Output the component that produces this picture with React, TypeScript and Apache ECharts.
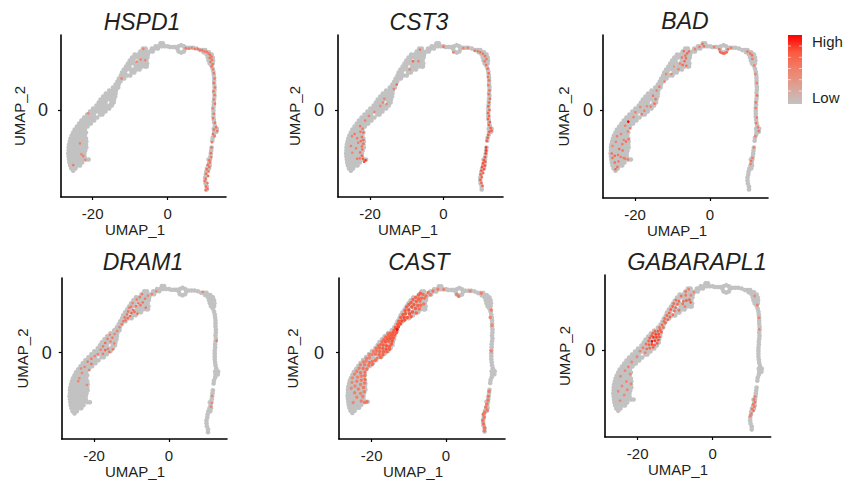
import React, { useEffect, useRef } from "react";
import * as echarts from "echarts";

type Row = [number, number[]];
type Hot = [number, number, number];

const lowerCells: Row[] = [
  [-16.2, [-25.2]],
  [-15.6, [-25.7, -24.6]],
  [-14.8, [-26.0, -25.1, -24.1, -23.4]],
  [-14.0, [-26.2, -25.4, -24.5, -23.6, -22.8]],
  [-13.2, [-26.3, -25.5, -24.6, -23.7, -22.8, -21.8, -21.1]],
  [-12.4, [-26.4, -25.5, -24.6, -23.7, -22.8, -22.2]],
  [-11.6, [-26.5, -25.6, -24.7, -23.8, -22.9, -22.2]],
  [-10.8, [-26.4, -25.5, -24.6, -23.7, -22.8, -22.0]],
  [-10.0, [-26.4, -25.6, -24.7, -23.8, -22.9, -22.0, -21.7]],
  [-9.2, [-26.3, -25.4, -24.5, -23.6, -22.7, -21.8]],
  [-8.4, [-26.1, -25.2, -24.3, -23.4, -22.5, -21.7]],
  [-7.6, [-25.9, -25.0, -24.1, -23.2, -22.4, -21.8]],
  [-6.8, [-25.6, -24.7, -23.8, -22.9, -22.1]],
  [-6.0, [-25.2, -24.3, -23.4, -22.5, -21.8]],
  [-5.2, [-24.8, -23.9, -23.0, -22.1]],
  [-4.4, [-24.2, -23.3, -22.4, -21.4]],
  [-3.6, [-23.6, -22.7, -21.8, -20.9, -20.5]],
  [-2.8, [-23.0, -22.1, -21.2, -20.3, -19.6]],
];
const middleCells: Row[] = [
  [-2.0, [-22.3, -21.4, -20.5, -19.6, -18.8]],
  [-1.2, [-21.5, -20.6, -19.7, -18.0, -17.4]],
  [-0.4, [-20.7, -19.8, -18.9, -18.0, -17.1, -16.6]],
  [0.4, [-19.9, -19.0, -18.1, -17.2, -16.3, -15.6]],
  [1.2, [-19.0, -18.1, -17.2, -16.4, -15.5, -14.9]],
  [2.0, [-18.4, -17.5, -16.6, -15.0, -14.4]],
  [2.8, [-17.9, -17.0, -16.1, -15.2, -14.3]],
  [3.6, [-17.2, -16.3, -15.4, -14.5, -14.0]],
  [4.4, [-16.5, -15.6, -14.7, -13.9]],
  [5.2, [-15.6, -14.7, -13.8]],
  [6.0, [-14.6, -13.8, -13.2]],
  [6.8, [-13.9, -13.1]],
  [7.6, [-13.4, -12.6]],
  [8.4, [-13.0, -12.2, -11.6]],
];
const upperCells: Row[] = [
  [9.2, [-12.5, -11.7, -10.8, -10.0]],
  [10.0, [-12.2, -11.4, -9.6, -8.9]],
  [10.8, [-11.7, -10.9, -10.0, -9.2, -8.3, -7.5]],
  [11.6, [-11.1, -10.2, -8.5, -7.6, -6.8, -6.0, -5.6]],
  [12.4, [-10.6, -9.8, -8.9, -7.9, -7.1, -6.2, -5.5]],
  [13.2, [-10.1, -9.2, -7.5, -6.6, -5.7]],
  [14.0, [-9.5, -8.6, -7.7, -6.8, -5.9, -5.4]],
  [14.8, [-8.8, -7.9, -7.0, -6.1, -5.3]],
  [15.6, [-7.3, -6.5, -5.6, -4.7, -4.0]],
  [16.4, [-6.6, -5.9, -4.2, -3.4, -2.6]],
  [17.0, [-3.2, -2.4, -1.6, -0.8, 0.0]],
  [17.8, [-1.9, -1.3]],
];
const bridgeCells: Row[] = [
  [16.8, [0.6, 1.4, 2.0]],
  [17.3, [3.6]],
  [17.0, [2.9, 4.3]],
  [16.3, [2.6, 4.6]],
  [15.6, [2.9, 4.3]],
  [15.3, [3.6]],
  [16.6, [5.2, 6.0, 6.8]],
  [16.4, [7.7]],
  [16.0, [8.6, 9.3, 10.0]],
  [15.4, [9.6, 10.4, 11.0]],
  [14.8, [10.4, 11.2, 11.7]],
  [14.0, [10.7, 11.5, 12.0]],
  [13.2, [10.9, 11.7, 12.1]],
  [12.4, [11.2, 12.0]],
];
const armCells: Row[] = [
  [11.8, [11.7]], [11.0, [12.0]], [10.2, [12.2]], [9.4, [12.3]], [8.6, [12.4]],
  [7.8, [12.4]], [7.0, [12.4]], [6.2, [12.5]], [5.4, [12.5]], [4.6, [12.4]],
  [3.8, [12.5]], [3.0, [12.4]], [2.2, [12.3]], [1.4, [12.3]], [0.6, [12.2]],
  [-0.2, [12.2]], [-1.0, [12.2]], [-1.8, [12.2]], [-2.6, [12.3]], [-3.4, [12.4]],
  [-4.2, [12.6]], [-5.0, [12.3, 13.1]], [-5.8, [12.4, 13.0]], [-6.6, [12.3]],
  [-7.4, [12.0]], [-8.2, [11.9]],
  [-10.0, [11.7]], [-10.8, [11.6]], [-11.6, [11.5]], [-12.4, [11.4]],
  [-13.2, [11.3, 10.9]], [-14.0, [11.1]], [-14.8, [10.8, 11.2]], [-15.6, [10.5, 11.0]],
  [-16.4, [10.3]], [-17.2, [10.2]], [-18.0, [10.0]], [-18.8, [10.0]],
  [-19.6, [10.1]], [-20.4, [10.4]], [-21.2, [10.4]],
];

const hspd1Hot: Hot[] = [
  [4.8,16.5,.55],[5.6,16.4,.55],[6.4,16.6,.5],[7.2,16.3,.55],[8,16.3,.6],[8.6,16,.58],[9.2,15.9,.6],[9.8,15.6,.55],
  [10.4,15.5,.6],[10.9,15.1,.58],[11.3,14.7,.6],[11.7,14.2,.55],[11.2,13.9,.6],[11.8,13.4,.58],[11.4,12.8,.55],
  [12,12.2,.55],[11.7,11.6,.6],[12.1,10.8,.5],[12.3,9.8,.55],[12.5,8.4,.58],[12.3,7.2,.6],[12.6,6,.55],[12.2,5,.6],
  [12.5,4,.55],[12.3,2.8,.5],[12.6,1.7,.58],[12,.4,.5],[12.3,-1,.52],[12.1,-2.2,.55],[12.6,-3.4,.6],[12.9,-4.6,.6],
  [12.3,-5.2,.58],[13.2,-5.6,.55],[12.1,-6.4,.6],[12.5,-7,.58],[11.8,-8.6,.58],[11.7,-10,.6],[11.5,-11.5,.6],
  [11.6,-12.6,.55],[11.1,-13.4,.6],[11.3,-14,.58],[10.7,-14.6,.6],[11.1,-15.2,.6],[10.4,-15.8,.62],[10.9,-16.4,.6],
  [10.2,-17,.58],[10.8,-17.6,.62],[10.1,-18.3,.6],[9.9,-19,.55],[10.6,-19.5,.6],[10.2,-20.4,.62],[10.6,-21,.6],[10.1,-21.4,.55],
  [-6.5,16.3,.5],[-7.2,13.5,.48],[-12.3,8.4,.5],[-8.3,12.9,.48],[-6,13.3,.45],[-25.2,-14.7,.55],[-23.4,-8.9,.5],
  [-21.2,-.9,.45],[-22.5,-12.3,.5],[-23,-11.8,.45],[-22,-13.3,.45],
];
const cst3Hot: Hot[] = [
  [8.5,15.8,.55],[9.3,15.7,.55],[10,15.4,.6],[10.7,15,.55],[11.3,14.4,.6],[11.7,13.6,.55],[11.2,13,.55],[11.6,12,.58],
  [12,11,.6],[12.3,9.8,.62],[12.1,8.8,.6],[12.4,7.9,.6],[12.2,6.6,.55],[12.5,5.2,.62],[12.3,4.2,.62],[12.6,3,.65],
  [12.4,2,.65],[12.2,1,.7],[12.5,0,.7],[12.1,-.8,.68],[12.4,-1.6,.7],[12.1,-2.4,.7],[12.6,-3.2,.72],[12.3,-4,.72],
  [12.8,-4.8,.72],[13.1,-5.5,.7],[12.5,-5.8,.75],[12.2,-6.6,.72],[12,-7.4,.72],[11.8,-8.2,.7],[11.6,-10,.85],
  [11.6,-10.8,.85],[11.5,-11.6,.82],[11.3,-12.6,.78],[11,-13.4,.78],[11.4,-13.8,.75],[10.7,-14.2,.78],[11.2,-14.8,.78],
  [10.5,-15.2,.78],[11,-15.8,.75],[10.3,-16.2,.75],[10.8,-16.8,.68],[10.1,-17.2,.72],[10.4,-17.9,.7],[10,-18.6,.72],
  [10.3,-19.4,.68],[10.6,-20.2,.65],[2.7,15.4,.5],[0,16.9,.6],[6.6,16.6,.5],[5.4,16.5,.5],
  [-6.4,16.1,.55],[-6.8,13,.5],[-8.3,13,.7],[-9.2,10.8,.5],[-12.7,6.8,.65],[-13.5,5.6,.5],[-16.5,2,.5],[-17.2,1.1,.45],
  [-15.5,1.6,.45],[-16.1,3,.48],[-18.8,-.5,.48],[-20.3,-1.6,.5],[-21.3,-2.8,.5],[-22.7,-4.3,.55],[-22,-5,.55],[-21.8,-6,.6],
  [-22.6,-5.8,.55],[-24.2,-6.4,.55],[-24.9,-7,.5],[-23.5,-7.5,.52],[-22.2,-7.2,.62],[-21.8,-8,.65],[-22.5,-8.3,.6],
  [-23.2,-8.7,.52],[-21.8,-9,.62],[-22.2,-9.7,.6],[-25.2,-9.6,.5],[-23.8,-10.2,.5],[-22.1,-10.5,.58],[-22.7,-11.3,.6],
  [-22.2,-12.2,.65],[-22.8,-12.9,.55],[-21.9,-13,.72],[-21.2,-13.4,.85],[-21.6,-13.8,.78],[-23.5,-13,.55],[-24.8,-11.4,.45],
];
const badHot: Hot[] = [
  [2.5,16.2,.62],[2.7,15.5,.68],[3.5,15.1,.7],[4.4,15.4,.68],[4.8,16.2,.62],[3.1,15.2,.65],[3.9,15.1,.68],[1.1,16.8,.5],[5.6,16.6,.55],
  [-2,17.6,.6],[-1.6,17,.58],[-2.8,16.8,.55],[-4,16.2,.5],[-5.6,15.6,.62],[-6.1,15.1,.65],[-6.6,14.5,.6],[-7,15.7,.6],[-6.4,13.8,.62],
  [-6.8,13,.65],[-7.3,12,.65],[-6.3,11.8,.58],[-7.5,14,.55],[-8,12.4,.48],[-8.4,10.9,.5],[-9.5,11.6,.45],[-10.3,9.6,.5],
  [-11.7,9.6,.45],[-12.1,7.6,.5],[-13.5,6.2,.55],[-14.2,5.2,.5],[-15.2,3.8,.55],[-14.5,2.9,.62],[-14.8,1.7,.6],[-15.8,.9,.5],
  [-16.8,1,.45],[-17.5,-.2,.5],[-18.2,-1.1,.55],[-18.6,.8,.45],[-19.9,-.6,.5],[-20.4,-1.9,.52],[-21.8,-3.1,1],[-22.6,-4.2,.5],
  [-21.3,-4.9,.55],[-21.9,-5.7,.5],[-23.7,-6.4,.48],[-24.8,-7,.5],[-21.7,-7.8,.6],[-22.4,-8.4,.62],[-23.4,-9.1,.55],[-23,-8,.5],
  [-25.1,-8.5,.5],[-26,-9.6,.45],[-24.2,-10.4,.62],[-23.3,-10.8,.58],[-26.2,-11.6,.6],[-25.4,-12.2,.65],[-24.5,-12,.55],[-26,-12.8,.62],
  [-23.8,-12.5,.5],[-23,-12.8,.55],[-25.4,-14,.6],[-24.4,-13.7,.55],[-25.2,-15.8,.65],[-24.7,-15.2,.62],[-21.9,-13.2,.55],[-22.6,-13,.52],
  [10,15.6,.55],[10.7,15.1,.58],[11.2,14.6,.62],[11.3,13.6,.55],[11.8,11.9,.5],[12.1,9.6,.48],[12.5,7.2,.5],[12.5,3.9,.6],[12.2,2,.55],
  [12.2,.5,.5],[12.5,-2,.55],[12.3,-3.5,.55],[12.8,-4.6,.5],[13,-5.6,.55],[12.1,-7,.5],[11.7,-10,.48],[11.3,-12.8,.52],[11,-13.6,.58],[10.8,-14.4,.5],
];
const dram1Hot: Hot[] = [
  [-3.4,16.4,.45],[-4.6,15.6,.5],[-5.6,15.2,.5],[-6.4,14.4,.55],[-7.2,15.6,.55],[-7.8,14.8,.58],[-8.6,14.2,.55],[-7,13.4,.58],[-7.6,12.7,.6],
  [-6.2,12,.58],[-8.2,13.2,.55],[-8.8,12.4,.6],[-9.7,13.2,.5],[-10.1,12.3,.55],[-9.5,11.4,.65],[-10.6,12,.55],[-10.9,11,.6],[-10,10.6,.68],
  [-9.2,10.9,.62],[-8.4,10.4,.6],[-11.2,10.2,.62],[-10.4,9.8,.7],[-11.8,9.4,.62],[-11,9.2,.65],[-12.2,8.4,.55],[-11.6,8.6,.62],[-12.6,7.6,.55],
  [-13.2,6.8,.5],[-13.8,5.8,.5],[-14.5,5,.48],[-15.1,4,.55],[-15.8,4.8,.45],[-16.4,3.7,.55],[-15.6,3,.5],[-14.6,2.5,.5],[-17,2.6,.62],
  [-17.6,1.7,.6],[-16.3,1,.52],[-15,.9,.55],[-15.9,.2,.62],[-17,.7,.68],[-18.2,.8,.5],[-17.6,-.3,.55],[-19,-.4,.5],[-19.8,-.9,.5],
  [-20.7,-1.6,.55],[-21.7,-2.4,.55],[-20.7,-3,.62],[-22.5,-3.8,.48],[-23.5,-4.2,.45],[-21.3,-4.6,.48],[-23.2,-5.4,.45],[-23.9,-6.8,.45],
  [-24.2,-7.6,.48],[-21.9,-8.6,.45],[12.7,3.2,.55],[11.5,-11.5,.45],[11.4,-13.4,.48],[11.2,-14.4,.5],[9,16.2,.45],
];
const castHot: Hot[] = [
  [9.5,15.9,.5],[6.5,16.5,.45],[3.4,15.1,.55],[2.9,15.6,.5],[-.6,16.9,.45],[-2.2,17,.5],[-3.5,16.5,.55],[-4.8,16.1,.58],[-4.2,15.5,.5],
  [-5.4,15.2,.58],[-6.2,15.6,.62],[-6.9,15.9,.7],[-7.4,15.4,.7],[-5.8,14.6,.6],[-6.6,14.6,.65],[-7.4,14.4,.72],[-8.2,14.8,.68],[-8.9,14.2,.72],
  [-8,13.7,.72],[-7,13.8,.62],[-6,13,.55],[-6.8,12.7,.62],[-7.6,12.6,.7],[-8.6,12.9,.75],[-9.4,13.4,.72],[-10,12.9,.72],[-9.2,12.2,.76],
  [-8.2,11.8,.72],[-7.2,11.7,.62],[-10.6,12.2,.72],[-10,11.4,.78],[-11,11.3,.72],[-9,10.9,.75],[-8,10.6,.68],[-9.8,10.4,.78],[-10.9,10.4,.75],
  [-11.6,10.2,.72],[-9.4,9.6,.72],[-10.4,9.4,.76],[-11.3,9.4,.78],[-12.2,9.4,.72],[-11.1,8.7,.76],[-11.9,8.5,.8],[-12.7,8.4,.72],
  [-12.2,7.7,.78],[-13,7.6,.75],[-12.8,6.9,.8],[-13.6,6.7,.76],[-13.2,6.2,.95],[-14,6,.72],[-13.3,5.4,.76],[-14.2,5.4,.76],[-15,5.2,.72],
  [-15.6,5,.62],[-13.8,4.7,.75],[-14.6,4.6,.76],[-15.4,4.4,.72],[-16.2,4.2,.68],[-14.2,3.9,.76],[-15,3.8,.78],[-15.8,3.6,.76],[-16.7,3.5,.68],
  [-14.5,3.1,.78],[-15.4,3,.72],[-16.3,2.9,.76],[-17.2,2.9,.68],[-14.7,2.3,.76],[-15.2,1.6,.72],[-16,1.8,.76],[-16.9,2,.72],[-17.6,2.1,.65],
  [-18.2,1.8,.6],[-15.2,.9,.72],[-16.1,.9,.76],[-17,1.1,.72],[-17.9,1.2,.68],[-18.8,1.1,.62],[-15.9,.2,.7],[-16.8,.2,.72],[-17.8,.3,.66],
  [-18.6,.4,.6],[-19.5,.3,.52],[-17,-.6,.7],[-18,-.6,.68],[-19,-.4,.58],[-19.9,-.5,.5],[-20.6,-.6,.48],[-17.6,-1.3,.66],[-18.6,-1.5,.58],
  [-20.6,-1.4,.5],[-21.4,-1.6,.52],[-19,-2.1,.62],[-19.8,-2.4,.58],[-20.6,-2.7,.6],[-21.5,-2.3,.5],[-22.2,-2.5,.52],[-19.8,-3.2,.62],
  [-20.8,-3.5,.58],[-21.9,-3.3,.55],[-23,-3.3,.5],[-21.3,-4.4,.6],[-22.3,-4.3,.58],[-23.4,-4.2,.52],[-24,-5,.5],[-21.8,-5.3,.6],[-23,-5.4,.55],
  [-24.6,-5.8,.5],[-21.9,-6.2,.58],[-22.8,-6.3,.52],[-23.8,-6.6,.48],[-25.2,-6.8,.45],[-21.8,-7.2,.62],[-22.8,-7.4,.52],[-24,-7.7,.5],
  [-25.3,-8,.45],[-21.9,-8.2,.55],[-23,-8.6,.5],[-24.5,-9,.48],[-22.2,-9.4,.55],[-23.6,-9.8,.5],[-25.5,-9.6,.45],[-22,-10.5,.52],[-23,-11,.48],
  [-24.6,-10.8,.48],[-22.4,-11.8,.52],[-24,-12,.45],[-21.3,-13.2,.58],[-21.9,-13.4,.55],[-22.8,-13,.5],[-25,-13.4,.45],
  [12.2,11.4,.5],[11.9,9.4,.48],[12.4,7.3,.45],[12.2,0.4,.48],[11.6,-10.4,.55],[11.4,-11.8,.55],[11.3,-12.8,.55],[11,-13.8,.55],
  [10.7,-14.6,.55],[11.1,-15.4,.55],[10.4,-16,.58],[10,-16.6,.6],[10.3,-17.4,.55],[9.9,-18.2,.6],[10.1,-19.2,.62],[10.4,-20.2,.58],[10.3,-21,.55],
];
const gabarapl1Hot: Hot[] = [
  [-6.4,16.2,.5],[-7.2,15.6,.55],[-5,15.4,.48],[-5.8,14.6,.5],[-7.2,14.6,.58],[-8.4,14.4,.6],[-6.2,13.4,.68],[-7,13.2,.72],[-5.9,12.7,.72],
  [-7.8,13,.62],[-9,13,.65],[-9.8,13.3,.62],[-8,12.3,.6],[-9.4,12.2,.66],[-10.4,12.4,.65],[-10.7,11.6,.68],[-9.9,11.3,.62],[-7.4,11.6,.5],
  [-9,10.6,.6],[-11.2,10.8,.7],[-10.2,10.4,.62],[-11.6,9.9,.68],[-10.6,9.4,.62],[-12.2,9.2,.68],[-11.4,8.8,.7],[-12.8,8.4,.62],[-12,8.1,.7],
  [-13,7.6,.68],[-12.6,7.2,.66],[-13.5,6.7,.7],[-13.2,6,.62],[-14.2,6,.62],[-14,5.4,.68],[-13.7,4.8,.75],[-14.6,5,.75],[-15.4,5,.7],
  [-16,4.5,.72],[-14.4,4.2,.78],[-15.2,4.2,.82],[-16.3,3.8,.75],[-14.2,3.5,.76],[-15,3.4,.82],[-15.8,3.4,.85],[-16.8,3.2,.72],[-14.5,2.7,.78],
  [-15.4,2.5,.85],[-16.2,2.3,1],[-17.1,2.4,.7],[-14.8,1.8,.75],[-15.5,1.3,.72],[-16.2,1.5,.82],[-17,1.4,.72],[-17.8,1.6,.62],[-15.9,.7,.7],
  [-16.8,.5,.65],[-17.6,.3,.62],[-18.6,.6,.52],[-19.4,-.3,.48],[-18,-.7,.5],[-20.2,-1.8,.48],[-21.6,-3.2,.45],[-22.5,-4.5,.5],[-23.4,-5.5,.45],
  [-22,-6.4,.45],[-24.6,-7,.45],[-23,-8.4,.45],[-21.8,-9,.48],[-24.2,-9.6,.45],[-22.8,-10.6,.48],[-25.2,-11,.42],[-23.6,-12,.42],[-24.7,-13.5,.45],
  [11.2,14.4,.45],[11.9,12,.52],[12.3,8.6,.45],[12.4,5.5,.45],[11.3,-12.4,.48],[11,-13.2,.55],[11.3,-13.9,.58],[10.8,-14.5,.6],[11.1,-15.1,.58],
  [10.5,-15.7,.55],[10.9,-16.2,.55],[10.3,-17,.5],[10,-17.6,.52],
];

const geneNames = ["HSPD1", "CST3", "BAD", "DRAM1", "CAST", "GABARAPL1"];
const geneHot: Hot[][] = [hspd1Hot, cst3Hot, badHot, dram1Hot, castHot, gabarapl1Hot];
const xTickValues = [-20, 0];
const yTickValues = [0];
const legendLabels = ["High", "Low"];
const legendStops = ["#C2C2C2", "#DCA294", "#F1806A", "#FA5A40", "#FF0000"];

const panels = [
  { l: 61, r: 226, t: 35, b: 197, xm: 92.7, x0: 167.7, y0: 110, titleX: 142, titleY: 22, titleSize: 23, nameX: 135, nameY: 22, zero: 13, hot: 2.6 },
  { l: 338, r: 503, t: 35, b: 197, xm: 370, x0: 443.5, y0: 110, titleX: 419, titleY: 22, titleSize: 23, nameX: 408, nameY: 24, zero: 14, hot: 2.6 },
  { l: 603, r: 768, t: 35, b: 198, xm: 635, x0: 710, y0: 110, titleX: 685, titleY: 21, titleSize: 23, nameX: 677, nameY: 19, zero: 10, hot: 2.6 },
  { l: 61.7, r: 227, t: 278, b: 439, xm: 94, x0: 169, y0: 352.7, titleX: 143, titleY: 262, titleSize: 23, nameX: 135, nameY: 20, zero: 10, hot: 2.6 },
  { l: 339, r: 505, t: 278, b: 440, xm: 371.7, x0: 446, y0: 353, titleX: 419, titleY: 262, titleSize: 23, nameX: 413, nameY: 27, zero: 15, hot: 3.4 },
  { l: 605, r: 770.7, t: 275, b: 437, xm: 637.7, x0: 712.7, y0: 350, titleX: 697, titleY: 262, titleSize: 23.5, nameX: 678, nameY: 21, zero: 10, hot: 2.8 },
];

const FONT = "'Liberation Sans', Arial, sans-serif";
const INK = "#231F20";

const flatten = (rows: Row[]) => rows.flatMap(([y, xs]) => xs.map((x) => [x, y, 0]));
const cells = [lowerCells, middleCells, upperCells, bridgeCells, armCells].flatMap(flatten);

export default function App() {
  const ref = useRef<HTMLDivElement>(null);
  useEffect(() => {
    document.body.style.margin = "0";
    const chart = echarts.init(ref.current!, null, { renderer: "svg" });
    const option: any = {
      animation: false,
      backgroundColor: "#fff",
      title: panels.map((p, i) => ({
        text: geneNames[i],
        left: p.titleX,
        top: p.titleY - 13,
        textAlign: "center",
        padding: 0,
        textStyle: { fontFamily: FONT, fontStyle: "italic", fontWeight: "normal", fontSize: p.titleSize, lineHeight: 26, color: INK },
      })),
      grid: panels.map((p) => ({ left: p.l, top: p.t, width: p.r - p.l, height: p.b - p.t, containLabel: false })),
      xAxis: panels.map((p, i) => {
        const s = (p.x0 - p.xm) / 20;
        const shift = (p.l + p.r) / 2 - p.nameX;
        return {
          type: "value",
          gridIndex: i,
          min: (p.l - p.x0) / s,
          max: (p.r - p.x0) / s,
          splitLine: { show: false },
          axisLine: { show: true, onZero: false, lineStyle: { color: "#000", width: 1.6 } },
          axisTick: { show: true, customValues: xTickValues, length: 3, lineStyle: { color: "#000", width: 1.2 } },
          axisLabel: { customValues: xTickValues, margin: 9, fontFamily: FONT, fontSize: 15, color: INK },
          name: "UMAP_1",
          nameLocation: "middle",
          nameGap: 25,
          nameTextStyle: { fontFamily: FONT, fontSize: 15, color: INK, padding: [0, shift * 2, 0, 0] },
        };
      }),
      yAxis: panels.map((p, i) => {
        const s = 3.75;
        const shift = (p.t + p.b) / 2 - p.y0;
        return {
          type: "value",
          gridIndex: i,
          min: (p.y0 - p.b) / s,
          max: (p.y0 - p.t) / s,
          splitLine: { show: false },
          axisLine: { show: true, onZero: false, lineStyle: { color: "#000", width: 1.6 } },
          axisTick: { show: true, customValues: yTickValues, length: 3, lineStyle: { color: "#000", width: 1.2 } },
          axisLabel: { customValues: yTickValues, margin: p.zero, fontFamily: FONT, fontSize: 18, color: INK },
          name: "UMAP_2",
          nameLocation: "middle",
          nameGap: p.nameY,
          nameTextStyle: { fontFamily: FONT, fontSize: 15, color: INK, padding: [0, 0, shift * 2, 0] },
        };
      }),
      visualMap: {
        type: "continuous",
        min: 0,
        max: 1,
        dimension: 2,
        show: false,
        inRange: { color: legendStops },
      },
      graphic: [
        {
          type: "rect",
          z: 90,
          shape: { x: 788, y: 35, width: 14, height: 69 },
          style: {
            fill: new echarts.graphic.LinearGradient(0, 1, 0, 0, legendStops.map((color, i) => ({ offset: i / (legendStops.length - 1), color }))),
          },
        },
        ...[46, 57.3, 68.5, 79.7, 91].flatMap((y) => [
          { type: "line", z: 100, shape: { x1: 788, y1: y, x2: 791, y2: y }, style: { stroke: "rgba(255,255,255,0.6)", lineWidth: 1 } },
          { type: "line", z: 100, shape: { x1: 799, y1: y, x2: 802, y2: y }, style: { stroke: "rgba(255,255,255,0.6)", lineWidth: 1 } },
        ]),
        { type: "text", x: 812, y: 41, style: { text: legendLabels[0], fontFamily: FONT, fontSize: 15, fill: INK, verticalAlign: "middle" } },
        { type: "text", x: 812, y: 97, style: { text: legendLabels[1], fontFamily: FONT, fontSize: 15, fill: INK, verticalAlign: "middle" } },
      ],
      series: panels.flatMap((p, i) => [
        { name: geneNames[i] + " low", type: "scatter", xAxisIndex: i, yAxisIndex: i, symbolSize: 4.6, itemStyle: { opacity: 1 }, data: cells, silent: true, z: 2 },
        { name: geneNames[i] + " high", type: "scatter", xAxisIndex: i, yAxisIndex: i, symbolSize: p.hot, itemStyle: { opacity: 1 }, data: geneHot[i], silent: true, z: 3 },
      ]),
    };
    chart.setOption(option);
    return () => chart.dispose();
  }, []);
  return <div ref={ref} style={{ width: 848, height: 480 }} />;
}
